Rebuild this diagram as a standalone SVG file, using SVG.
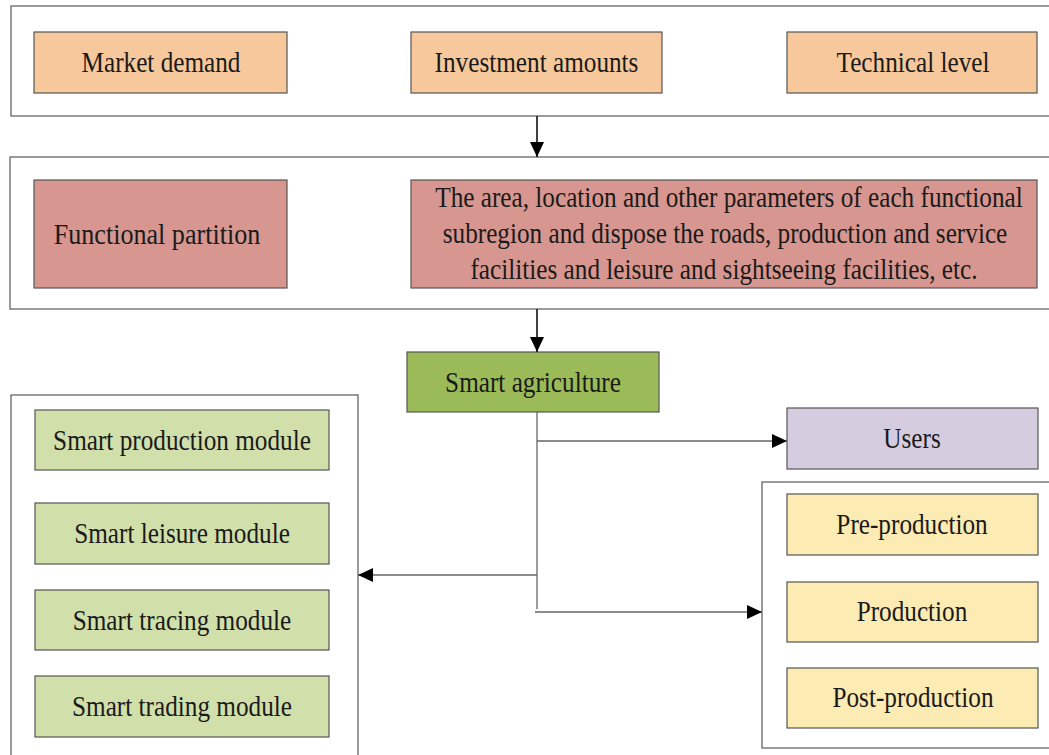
<svg xmlns="http://www.w3.org/2000/svg" width="1049" height="755" viewBox="0 0 1049 755">
<style>
.frame{fill:#fff;stroke:#666;stroke-width:1.3}
.box{stroke:#555;stroke-width:1.2}
.org{fill:#F6C89B}
.red{fill:#D7968F}
.grn{fill:#9BBB59}
.lgr{fill:#D1DFAB}
.pur{fill:#D6CCE0}
.yel{fill:#FCEBB2}
text{font-family:"Liberation Serif","Times New Roman",serif;font-size:29px;fill:#1a1a1a;text-anchor:middle}
.ln{fill:none;stroke:#666;stroke-width:1.3}
.lk{fill:none;stroke:#111;stroke-width:1.6}
</style>
<defs>
<marker id="ah" markerWidth="15" markerHeight="14" refX="15" refY="7" orient="auto" markerUnits="userSpaceOnUse">
<path d="M0,0 L15,7 L0,14 Z" fill="#000"/>
</marker>
</defs>
<rect width="1049" height="755" fill="#fff"/>

<g id="frame-top"><rect class="frame" x="11" y="6" width="1050" height="110"/></g>
<g id="frame-mid"><rect class="frame" x="10" y="157" width="1050" height="152"/></g>
<g id="frame-left"><rect class="frame" x="11" y="395" width="347" height="370"/></g>
<g id="frame-right"><rect class="frame" x="762" y="482" width="300" height="266"/></g>

<g id="market-demand"><rect class="box org" x="34" y="32" width="253" height="61"/><text transform="translate(161,72) scale(0.87,1)">Market demand</text></g>
<g id="investment-amounts"><rect class="box org" x="411" y="32" width="251" height="61"/><text transform="translate(536.5,72) scale(0.87,1)">Investment amounts</text></g>
<g id="technical-level"><rect class="box org" x="787" y="32" width="250" height="61"/><text transform="translate(913,72) scale(0.87,1)">Technical level</text></g>

<g id="functional-partition"><rect class="box red" x="34" y="180" width="253" height="108"/><text transform="translate(157,244) scale(0.9,1)">Functional partition</text></g>
<g id="parameters"><rect class="box red" x="411" y="180" width="626" height="108"/>
<text transform="translate(729,207) scale(0.87,1)">The area, location and other parameters of each functional</text>
<text transform="translate(725,243) scale(0.87,1)">subregion and dispose the roads, production and service</text>
<text transform="translate(724,279) scale(0.87,1)">facilities and leisure and sightseeing facilities, etc.</text></g>

<g id="smart-agriculture"><rect class="box grn" x="407" y="352" width="252" height="60"/><text transform="translate(533,392) scale(0.87,1)">Smart agriculture</text></g>
<g id="users"><rect class="box pur" x="787" y="408" width="251" height="61"/><text transform="translate(912,448) scale(0.87,1)">Users</text></g>

<g id="smart-production"><rect class="box lgr" x="35" y="410" width="294" height="60"/><text transform="translate(182,450) scale(0.87,1)">Smart production module</text></g>
<g id="smart-leisure"><rect class="box lgr" x="35" y="503" width="294" height="61"/><text transform="translate(182,543) scale(0.87,1)">Smart leisure module</text></g>
<g id="smart-tracing"><rect class="box lgr" x="35" y="590" width="294" height="60"/><text transform="translate(182,630) scale(0.87,1)">Smart tracing module</text></g>
<g id="smart-trading"><rect class="box lgr" x="35" y="676" width="294" height="61"/><text transform="translate(182,716) scale(0.87,1)">Smart trading module</text></g>

<g id="pre-production"><rect class="box yel" x="787" y="494" width="251" height="61"/><text transform="translate(912,534) scale(0.87,1)">Pre-production</text></g>
<g id="production"><rect class="box yel" x="787" y="582" width="251" height="60"/><text transform="translate(912,621) scale(0.87,1)">Production</text></g>
<g id="post-production"><rect class="box yel" x="787" y="668" width="251" height="60"/><text transform="translate(913,707) scale(0.87,1)">Post-production</text></g>

<g id="connectors">
<path class="lk" d="M537,116 V157" marker-end="url(#ah)"/>
<path class="lk" d="M537,309 V352" marker-end="url(#ah)"/>
<path class="ln" d="M537,412 V609"/>
<path class="ln" d="M537,441 H787" marker-end="url(#ah)"/>
<path class="ln" d="M537,575 H358" marker-end="url(#ah)"/>
<path class="ln" d="M535,612 H762" marker-end="url(#ah)"/>
</g>
</svg>
